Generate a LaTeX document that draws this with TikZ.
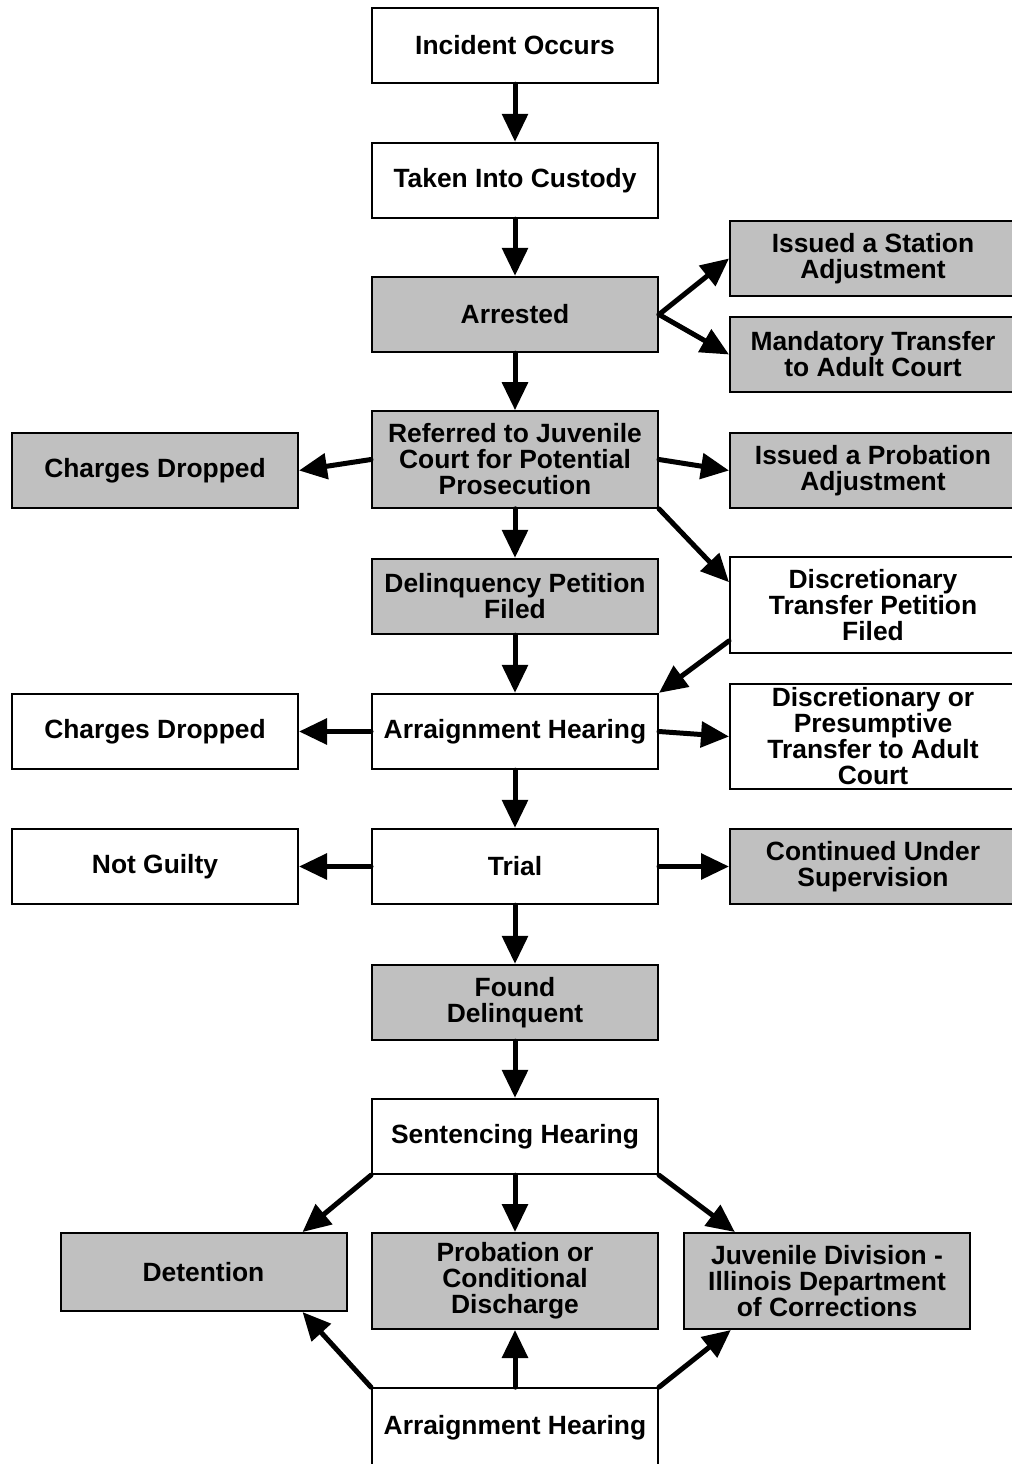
\documentclass[tikz,border=0pt]{standalone}
\usepackage{fontspec}
\setmainfont{Liberation Sans}
\usepackage{tikz}
\usetikzlibrary{positioning, arrows.meta, calc}
\definecolor{boxgray}{RGB}{192,192,192}
\tikzset{
    box/.style={draw, line width=1.5pt, minimum width=214.5pt, minimum height=56.5pt,
        align=center, inner sep=2pt, font=\bfseries\fontsize{19.8}{19.5}\selectfont},
    graybox/.style={box, fill=boxgray},
    flow/.style={line width=3.75pt, line cap=round, -{Triangle[length=21pt,width=19pt]}}
}
\begin{document}
\begin{tikzpicture}[x=0.75pt, y=-0.75pt]
    \useasboundingbox (0,0) rectangle (1012,1464);

    % main column
    \node[box] (incident) at (515,45.5) {Incident Occurs};
    \node[box] (custody) at (515,180.5) {Taken Into Custody};
    \node[graybox] (arrested) at (515,314.5) {Arrested};
    \node[graybox, minimum height=72.5pt] (refer) at (515,459.5)
        {Referred to Juvenile\\Court for Potential\\Prosecution};
    \node[graybox] (delin) at (515,596.5) {Delinquency Petition\\Filed};
    \node[box] (arraign) at (515,731.5) {Arraignment Hearing};
    \node[box] (trial) at (515,866.5) {Trial};
    \node[graybox] (found) at (515,1002.5) {Found\\Delinquent};
    \node[box] (sentence) at (515,1136.5) {Sentencing Hearing};
    \node[graybox, minimum height=72pt] (probcd) at (515,1281)
        {Probation or\\Conditional\\Discharge};
    \node[box, minimum height=59pt] (arraignb) at (515,1427.5) {Arraignment Hearing};

    % right column
    \node[graybox] (station) at (873,258.5) {Issued a Station\\Adjustment};
    \node[graybox] (mandatory) at (873,354.5) {Mandatory Transfer\\to Adult Court};
    \node[graybox] (probadj) at (873,470.5) {Issued a Probation\\Adjustment};
    \node[box, minimum height=72pt] (dtp) at (873,605) {Discretionary\\Transfer Petition\\Filed};
    \node[box, minimum height=78.5pt] (dpt) at (873,736.5)
        {Discretionary or\\Presumptive\\Transfer to Adult\\Court};
    \node[graybox] (contsup) at (873,866.5) {Continued Under\\Supervision};
    \node[graybox, minimum height=72pt] (juvdiv) at (827,1281)
        {Juvenile Division -\\Illinois Department\\of Corrections};

    % left column
    \node[graybox] (dropa) at (155,470.5) {Charges Dropped};
    \node[box] (dropb) at (155,731.5) {Charges Dropped};
    \node[box] (notguilty) at (155,866.5) {Not Guilty};
    \node[graybox, minimum height=58.5pt] (detention) at (203.5,1272) {Detention};

    % arrows
    \draw[flow] (incident) -- (custody);
    \draw[flow] (custody) -- (arrested);
    \draw[flow] (arrested) -- (refer);
    \draw[flow] (arrested.east) -- (station.west);
    \draw[flow] (arrested.east) -- (mandatory.west);
    \draw[flow] (refer.west) -- (dropa.east);
    \draw[flow] (refer.east) -- (probadj.west);
    \draw[flow] (refer) -- (delin);
    \draw[flow] (refer.south east) -- (dtp.171);
    \draw[flow] (dtp.194) -- (arraign.north east);
    \draw[flow] (delin) -- (arraign);
    \draw[flow] (arraign.west) -- (dropb.east);
    \draw[flow] (arraign.east) -- (dpt.west);
    \draw[flow] (arraign) -- (trial);
    \draw[flow] (trial.west) -- (notguilty.east);
    \draw[flow] (trial.east) -- (contsup.west);
    \draw[flow] (trial) -- (found);
    \draw[flow] (found) -- (sentence);
    \draw[flow] (sentence.south west) -- (detention.22);
    \draw[flow] (sentence) -- (probcd);
    \draw[flow] (sentence.south east) -- (juvdiv.152);
    \draw[flow] (arraignb.north west) -- (detention.-22);
    \draw[flow] (arraignb) -- (probcd);
    \draw[flow] (arraignb.north east) -- (juvdiv.207);
\end{tikzpicture}
\end{document}
